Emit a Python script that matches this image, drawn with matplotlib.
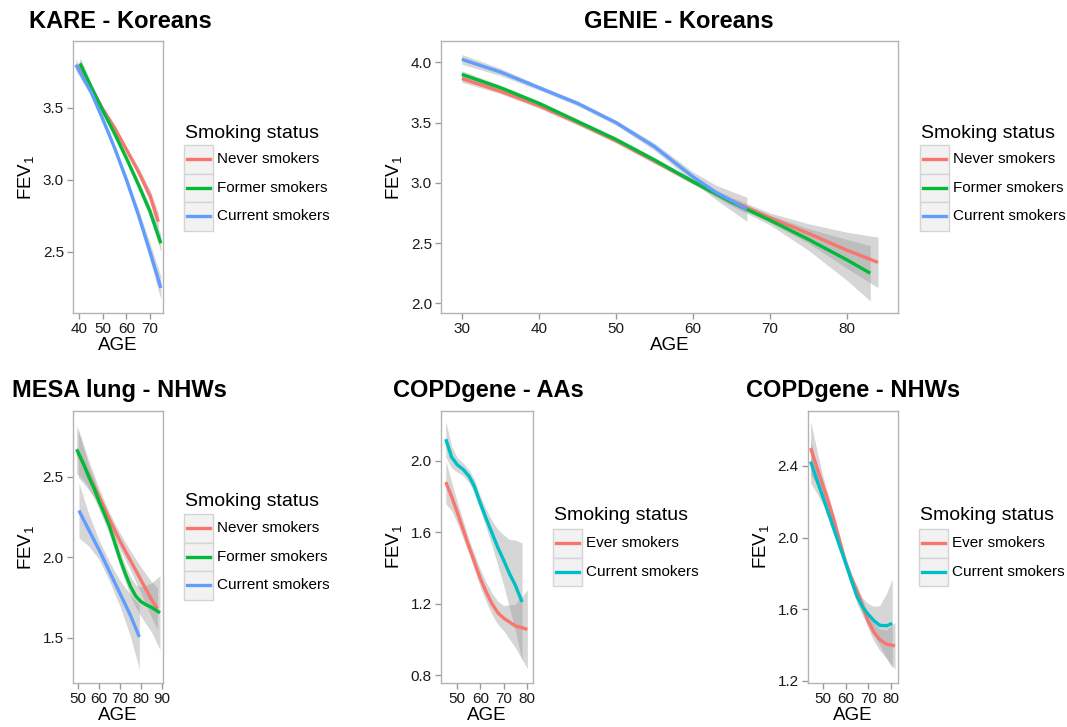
import numpy as np
import matplotlib
matplotlib.use('Agg')
import matplotlib.pyplot as plt
from matplotlib.patches import Rectangle
from matplotlib.lines import Line2D

plt.rcParams['font.family'] = ['Liberation Sans', 'DejaVu Sans']
plt.rcParams['mathtext.fontset'] = 'custom'
plt.rcParams['mathtext.rm'] = 'Liberation Sans'

RED = '#F8766D'
GREEN = '#00BA38'
BLUE = '#619CFF'
CYAN = '#00BFC4'

# ---- KARE - Koreans
kare_never_age = [40, 45, 50, 55, 60, 65, 70, 73.5]
kare_never_fev = [3.80, 3.64, 3.49, 3.36, 3.21, 3.06, 2.89, 2.71]
kare_never_se = [0.04, 0.03, 0.02, 0.02, 0.02, 0.03, 0.04, 0.06]
kare_former_age = [40.3, 45, 50, 55, 60, 65, 70, 74.6]
kare_former_fev = [3.81, 3.645, 3.48, 3.32, 3.15, 2.97, 2.78, 2.56]
kare_former_se = [0.04, 0.03, 0.02, 0.02, 0.02, 0.03, 0.04, 0.06]
kare_current_age = [38.5, 45, 50, 55, 60, 65, 70, 74.6]
kare_current_fev = [3.80, 3.61, 3.42, 3.22, 3.00, 2.76, 2.50, 2.25]
kare_current_se = [0.04, 0.03, 0.02, 0.02, 0.03, 0.04, 0.06, 0.08]

# ---- GENIE - Koreans
genie_never_age = [30, 35, 40, 45, 50, 55, 60, 65, 70, 75, 80, 84]
genie_never_fev = [3.865, 3.76, 3.64, 3.50, 3.35, 3.18, 3.01, 2.85, 2.71, 2.58, 2.44, 2.34]
genie_never_se = [0.03, 0.02, 0.02, 0.02, 0.02, 0.02, 0.02, 0.03, 0.04, 0.08, 0.15, 0.21]
genie_former_age = [30, 35, 40, 45, 50, 55, 60, 65, 70, 75, 80, 83]
genie_former_fev = [3.90, 3.79, 3.66, 3.51, 3.36, 3.19, 3.01, 2.84, 2.69, 2.53, 2.36, 2.25]
genie_former_se = [0.03, 0.02, 0.02, 0.02, 0.02, 0.02, 0.02, 0.03, 0.04, 0.09, 0.17, 0.23]
genie_current_age = [30, 35, 40, 45, 50, 55, 60, 63, 67]
genie_current_fev = [4.025, 3.92, 3.79, 3.66, 3.50, 3.30, 3.05, 2.92, 2.78]
genie_current_se = [0.04, 0.03, 0.02, 0.02, 0.02, 0.03, 0.04, 0.06, 0.10]

# ---- MESA lung - NHWs
mesa_never_age = [50, 55, 60, 65, 70, 75, 80, 85, 88]
mesa_never_fev = [2.645, 2.51, 2.375, 2.235, 2.10, 1.98, 1.86, 1.74, 1.68]
mesa_never_se = [0.15, 0.09, 0.05, 0.04, 0.05, 0.06, 0.08, 0.11, 0.13]
mesa_former_age = [49.2, 52.5, 55, 57.5, 60, 62.5, 65, 67.5, 70, 72.5, 75, 77.5, 80, 82.5, 85, 89.2]
mesa_former_fev = [2.67, 2.58, 2.50, 2.43, 2.345, 2.27, 2.19, 2.09, 1.99, 1.90, 1.82, 1.76, 1.725, 1.705, 1.69, 1.655]
mesa_former_se = [0.15, 0.10, 0.07, 0.06, 0.05, 0.05, 0.05, 0.05, 0.05, 0.05, 0.06, 0.07, 0.09, 0.12, 0.15, 0.23]
mesa_current_age = [50.3, 55, 60, 65, 70, 75, 79.3]
mesa_current_fev = [2.29, 2.17, 2.045, 1.91, 1.775, 1.64, 1.505]
mesa_current_se = [0.17, 0.10, 0.06, 0.06, 0.08, 0.13, 0.20]

# ---- COPDgene - AAs
aa_ever_age = [45, 47.5, 50, 52.5, 55, 57.5, 60, 62.5, 65, 67.5, 70, 75, 80.3]
aa_ever_fev = [1.88, 1.80, 1.71, 1.615, 1.52, 1.43, 1.34, 1.265, 1.20, 1.15, 1.12, 1.077, 1.057]
aa_ever_se = [0.12, 0.08, 0.06, 0.05, 0.04, 0.045, 0.05, 0.055, 0.06, 0.065, 0.07, 0.12, 0.22]
aa_current_age = [45, 47.5, 50, 52.6, 55.2, 57.4, 60, 62.5, 65, 67.5, 70, 72.5, 75, 78]
aa_current_fev = [2.12, 2.02, 1.976, 1.95, 1.91, 1.855, 1.76, 1.675, 1.595, 1.515, 1.445, 1.37, 1.306, 1.21]
aa_current_se = [0.10, 0.06, 0.04, 0.035, 0.035, 0.04, 0.04, 0.05, 0.07, 0.10, 0.14, 0.19, 0.25, 0.33]

# ---- COPDgene - NHWs
nhw_ever_age = [44.4, 47.5, 50, 52.5, 54.9, 57.5, 60, 62.5, 65, 67.5, 70, 72.5, 75, 78, 81.8]
nhw_ever_fev = [2.50, 2.38, 2.285, 2.19, 2.09, 1.97, 1.855, 1.77, 1.70, 1.615, 1.53, 1.47, 1.43, 1.405, 1.395]
nhw_ever_se = [0.15, 0.09, 0.05, 0.04, 0.03, 0.03, 0.03, 0.03, 0.03, 0.035, 0.04, 0.05, 0.06, 0.08, 0.13]
nhw_current_age = [44.4, 47.5, 50, 52.5, 54.9, 57.5, 60, 62.5, 65, 67.5, 70, 72.5, 75, 78, 80.6]
nhw_current_fev = [2.425, 2.31, 2.22, 2.13, 2.04, 1.945, 1.855, 1.76, 1.67, 1.61, 1.57, 1.535, 1.51, 1.507, 1.52]
nhw_current_se = [0.12, 0.07, 0.04, 0.035, 0.03, 0.03, 0.03, 0.035, 0.04, 0.05, 0.06, 0.08, 0.11, 0.18, 0.25]

three_labels = ['Never smokers', 'Former smokers', 'Current smokers']
two_labels = ['Ever smokers', 'Current smokers']

W, H = 1067, 727
fig = plt.figure(figsize=(W / 100, H / 100), dpi=100)


def fx(x):
    return x / W


def fy(y):
    return 1 - y / H


def make_axes(l, r, t, b):
    return fig.add_axes([fx(l), fy(b), (r - l) / W, (b - t) / H])


def panel(ax, groups, xlim, ylim, xticks, yticks):
    for age, fev, se, col in groups:
        age = np.array(age)
        fev = np.array(fev)
        se = np.array(se)
        ax.fill_between(age, fev - se, fev + se, color='#999999', alpha=0.4, lw=0)
    for age, fev, se, col in groups:
        ax.plot(age, fev, color=col, lw=2.4, solid_capstyle='butt', solid_joinstyle='round')
    ax.set_xlim(xlim)
    ax.set_ylim(ylim)
    ax.set_xticks(xticks)
    ax.set_yticks(yticks)
    ax.set_yticklabels(['{:.1f}'.format(v) for v in yticks])
    for s in ax.spines.values():
        s.set_color('#B3B3B3')
        s.set_linewidth(1.0)
    ax.tick_params(colors='#999999', labelcolor='#1a1a1a', labelsize=11,
                   length=4, width=1, direction='out', pad=2.5)
    ax.set_xlabel('AGE', fontsize=13.5, labelpad=1)
    ax.set_ylabel(r'FEV$_\mathregular{1}$', fontsize=13.5, labelpad=4)


def legend(x, title_y, row_top, labels, colors):
    fig.text(fx(x + 1), fy(title_y), 'Smoking status', fontsize=14,
             ha='left', va='center')
    for i, (lab, col) in enumerate(zip(labels, colors)):
        top = row_top + i * 28.5
        fig.add_artist(Rectangle((fx(x), fy(top + 28.5)), 29 / W, 28.5 / H,
                                 transform=fig.transFigure, facecolor='#F2F2F2',
                                 edgecolor='#D4D4D4', lw=1))
        yc = fy(top + 14.25)
        fig.add_artist(Line2D([fx(x + 3), fx(x + 26)], [yc, yc], color=col,
                              lw=2.4, transform=fig.transFigure))
        fig.text(fx(x + 33), yc, lab, fontsize=11, ha='left', va='center')


# KARE
ax1 = make_axes(73, 163, 41, 313)
panel(ax1, [(kare_never_age, kare_never_fev, kare_never_se, RED),
            (kare_former_age, kare_former_fev, kare_former_se, GREEN),
            (kare_current_age, kare_current_fev, kare_current_se, BLUE)],
      (37.3, 75.5), (2.076, 3.965), [40, 50, 60, 70], [2.5, 3.0, 3.5])
fig.text(fx(29), fy(21), 'KARE - Koreans', fontsize=17, fontweight='bold', va='center')
legend(184, 133, 145, three_labels, [RED, GREEN, BLUE])

# GENIE
ax2 = make_axes(441, 898, 41, 313)
panel(ax2, [(genie_never_age, genie_never_fev, genie_never_se, RED),
            (genie_former_age, genie_former_fev, genie_former_se, GREEN),
            (genie_current_age, genie_current_fev, genie_current_se, BLUE)],
      (27.3, 86.6), (1.92, 4.177), [30, 40, 50, 60, 70, 80],
      [2.0, 2.5, 3.0, 3.5, 4.0])
fig.text(fx(679), fy(21), 'GENIE - Koreans', fontsize=17, fontweight='bold',
         va='center', ha='center')
legend(920, 133, 145, three_labels, [RED, GREEN, BLUE])

# MESA
ax3 = make_axes(72.7, 163.3, 411, 683)
panel(ax3, [(mesa_never_age, mesa_never_fev, mesa_never_se, RED),
            (mesa_former_age, mesa_former_fev, mesa_former_se, GREEN),
            (mesa_current_age, mesa_current_fev, mesa_current_se, BLUE)],
      (47.3, 90.8), (1.219, 2.908), [50, 60, 70, 80, 90], [1.5, 2.0, 2.5])
fig.text(fx(12), fy(391), 'MESA lung - NHWs', fontsize=17, fontweight='bold', va='center')
legend(184, 502, 514, three_labels, [RED, GREEN, BLUE])

# COPDgene AAs
ax4 = make_axes(440.7, 532.7, 410.7, 682.7)
panel(ax4, [(aa_ever_age, aa_ever_fev, aa_ever_se, RED),
            (aa_current_age, aa_current_fev, aa_current_se, CYAN)],
      (42.8, 82.6), (0.759, 2.279), [50, 60, 70, 80], [0.8, 1.2, 1.6, 2.0])
fig.text(fx(393), fy(391), 'COPDgene - AAs', fontsize=17, fontweight='bold', va='center')
legend(552.7, 516, 529, two_labels, [RED, CYAN])

# COPDgene NHWs
ax5 = make_axes(807.7, 897.7, 410.7, 682.7)
panel(ax5, [(nhw_ever_age, nhw_ever_fev, nhw_ever_se, RED),
            (nhw_current_age, nhw_current_fev, nhw_current_se, CYAN)],
      (43.1, 83.0), (1.189, 2.709), [50, 60, 70, 80], [1.2, 1.6, 2.0, 2.4])
fig.text(fx(746), fy(391), 'COPDgene - NHWs', fontsize=17, fontweight='bold', va='center')
legend(919.3, 516, 529, two_labels, [RED, CYAN])

fig.savefig('out.png', dpi=100)
